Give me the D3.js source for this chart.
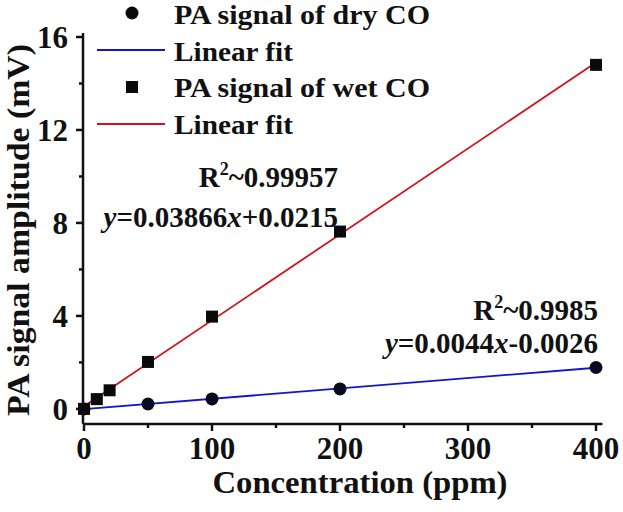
<!DOCTYPE html>
<html><head><meta charset="utf-8">
<script src="https://cdn.jsdelivr.net/npm/d3@7"></script>
<style>body{margin:0;background:#fff}svg{display:block}text{font-family:"Liberation Serif","DejaVu Serif",serif;font-weight:bold;fill:#111}</style>
</head><body><svg id="c" width="623" height="512"></svg>
<script>
const dryX = [0, 50, 100, 200, 400];
const dryY = [0.0, 0.21, 0.43, 0.86, 1.78];
const wetX = [0, 10, 20, 50, 100, 200, 400];
const wetY = [0.0, 0.42, 0.80, 2.02, 3.97, 7.63, 14.8];
const xTicks = [0, 100, 200, 300, 400];
const xMinor = [50, 150, 250, 350];
const yTicks = [0, 4, 8, 12, 16];
const yMinor = [2, 6, 10, 14];
const legendLabels = ["PA signal of dry CO", "Linear fit", "PA signal of wet CO", "Linear fit"];
const wetR2 = "0.99957", wetEq = ["0.03866", "+0.0215"];
const dryR2 = "0.9985", dryEq = ["0.0044", "-0.0026"];

const svg = d3.select("#c");
const x = d3.scaleLinear().domain([0, 405]).range([84, 84 + 512 * 405 / 400]);
const y = d3.scaleLinear().domain([-0.65, 16]).range([424, 37]);
const X0 = 83, Y0 = 424;
const ink = "#111";

// linear regression from data
function fit(xs, ys) {
  const mx = d3.mean(xs), my = d3.mean(ys);
  let sxy = 0, sxx = 0;
  xs.forEach((v, i) => { sxy += (v - mx) * (ys[i] - my); sxx += (v - mx) * (v - mx); });
  const slope = sxy / sxx;
  return {slope, intercept: my - slope * mx};
}
const wetFit = fit(wetX, wetY), dryFit = fit(dryX, dryY);

// axes
const gx = svg.append("g").attr("transform", `translate(0,${Y0})`);
gx.append("line").attr("x1", X0).attr("x2", x(405)).attr("stroke", ink).attr("stroke-width", 2.5);
gx.selectAll(".mt").data(xTicks).join("line").attr("x1", d=>x(d)).attr("x2", d=>x(d)).attr("y1", 0).attr("y2", 7).attr("stroke",ink).attr("stroke-width",2.5);
gx.selectAll(".nt").data(xMinor).join("line").attr("x1", d=>x(d)).attr("x2", d=>x(d)).attr("y1", 0).attr("y2", 4).attr("stroke",ink).attr("stroke-width",2.5);
gx.selectAll("text").data(xTicks).join("text").attr("x", d=>x(d)).attr("y", 35).attr("text-anchor","middle").attr("font-size", 31).text(d=>d);

const gy = svg.append("g").attr("transform", `translate(${X0},0)`);
gy.append("line").attr("y1", Y0).attr("y2", 33).attr("stroke", ink).attr("stroke-width", 2.5);
gy.selectAll(".mt").data(yTicks).join("line").attr("y1", d=>y(d)).attr("y2", d=>y(d)).attr("x1", 0).attr("x2", -7).attr("stroke",ink).attr("stroke-width",2.5);
gy.selectAll(".nt").data(yMinor).join("line").attr("y1", d=>y(d)).attr("y2", d=>y(d)).attr("x1", 0).attr("x2", -4).attr("stroke",ink).attr("stroke-width",2.5);
gy.selectAll("text").data(yTicks).join("text").attr("x", -15).attr("y", d=>y(d)).attr("dy","0.35em").attr("text-anchor","end").attr("font-size", 31).text(d=>d);

svg.append("text").attr("x", 360).attr("y", 493).attr("text-anchor","middle").attr("font-size", 32)
  .attr("textLength", 295).attr("lengthAdjust","spacingAndGlyphs").text("Concentration (ppm)");
svg.append("text").attr("transform","translate(29,230) rotate(-90)").attr("text-anchor","middle").attr("font-size", 31)
  .attr("textLength", 372).attr("lengthAdjust","spacingAndGlyphs").text("PA signal amplitude (mV)");

// fit lines
const fitLine = (f, col) => svg.append("line")
  .attr("x1", x(0)).attr("y1", y(f.intercept)).attr("x2", x(400)).attr("y2", y(f.slope*400+f.intercept))
  .attr("stroke", col).attr("stroke-width", 1.8);
fitLine(wetFit, "#d0141e");
fitLine(dryFit, "#1414cc");

// markers
svg.selectAll(".dry").data(dryX).join("circle").attr("cx", d=>x(d)).attr("cy", (d,i)=>y(dryY[i])).attr("r", 6.5).attr("fill","#0a0a1e");
svg.selectAll(".wet").data(wetX).join("rect").attr("x", d=>x(d)-6).attr("y", (d,i)=>y(wetY[i])-6).attr("width",12).attr("height",12).attr("fill","#0a0a0a");

// legend
const lg = svg.append("g");
lg.append("circle").attr("cx",132).attr("cy",13).attr("r",6.5).attr("fill","#0a0a0a");
lg.append("line").attr("x1",97).attr("x2",165).attr("y1",50).attr("y2",50).attr("stroke","#1414cc").attr("stroke-width",1.8);
lg.append("rect").attr("x",126).attr("y",81).attr("width",12).attr("height",12).attr("fill","#0a0a0a");
lg.append("line").attr("x1",97).attr("x2",165).attr("y1",124).attr("y2",124).attr("stroke","#d0141e").attr("stroke-width",1.8);
const legW = [256, 119, 256, 119];
lg.selectAll("text").data(legendLabels).join("text").attr("x",174).attr("y",(d,i)=>24+i*36.7)
  .attr("font-size",26.5).attr("textLength",(d,i)=>legW[i]).attr("lengthAdjust","spacingAndGlyphs").text(d=>d);

// annotations
function ann(xr, yb, gap, r2, eq) {
  const t1 = svg.append("text").attr("x", xr).attr("y", yb).attr("text-anchor","end").attr("font-size",29);
  t1.append("tspan").text("R");
  t1.append("tspan").attr("font-size",18).attr("dy",-12).text("2");
  t1.append("tspan").attr("dy",12).text("~"+r2);
  const t2 = svg.append("text").attr("x", xr).attr("y", yb+gap).attr("text-anchor","end").attr("font-size",29);
  t2.append("tspan").attr("font-style","italic").text("y");
  t2.append("tspan").text("="+eq[0]);
  t2.append("tspan").attr("font-style","italic").text("x");
  t2.append("tspan").text(eq[1]);
}
ann(338, 187, 40, wetR2, wetEq);
ann(598, 320, 33, dryR2, dryEq);
</script></body></html>
